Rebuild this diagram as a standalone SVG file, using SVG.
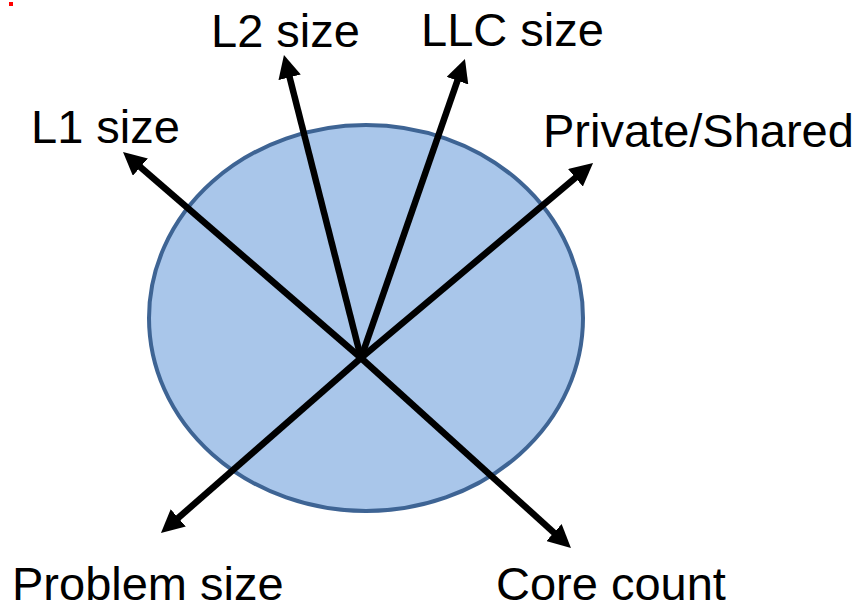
<svg xmlns="http://www.w3.org/2000/svg" width="867" height="610" viewBox="0 0 867 610">
<style>
.lbl{font-family:"Liberation Sans",Arial,sans-serif;font-size:47px;fill:#000}
.ax{stroke:#000;stroke-width:6.5;fill:none;marker-end:url(#ah)}
</style>
<defs>
<marker id="ah" viewBox="0 0 23 23" markerWidth="23" markerHeight="23" markerUnits="userSpaceOnUse" refX="7" refY="11.5" orient="auto">
<path d="M0,0 L23,11.5 L0,23 z" fill="#000"/>
</marker>
</defs>
<rect width="867" height="610" fill="#fff"/>
<rect x="9" y="2" width="4" height="4" fill="#ff0000"/>
<g id="body">
<ellipse cx="366" cy="318" rx="217" ry="193" fill="#a9c6ea" stroke="#3e6494" stroke-width="4"/>
</g>
<g id="connectors">
<line class="ax" x1="361" y1="358" x2="135.1" y2="162.5"/>
<line class="ax" x1="361" y1="358" x2="287.9" y2="70.5"/>
<line class="ax" x1="361" y1="358" x2="459.7" y2="74.1"/>
<line class="ax" x1="361" y1="358" x2="580.8" y2="173.3"/>
<line class="ax" x1="361" y1="358" x2="173" y2="522.5"/>
<line class="ax" x1="361" y1="358" x2="559.1" y2="537.3"/>
</g>
<g id="l1"><text class="lbl" x="31" y="143">L1 size</text></g>
<g id="l2"><text class="lbl" x="211" y="47">L2 size</text></g>
<g id="llc"><text class="lbl" x="421" y="46">LLC size</text></g>
<g id="ps"><text class="lbl" x="543" y="147">Private/Shared</text></g>
<g id="prob"><text class="lbl" x="12" y="600">Problem size</text></g>
<g id="core"><text class="lbl" x="496" y="600">Core count</text></g>
</svg>
